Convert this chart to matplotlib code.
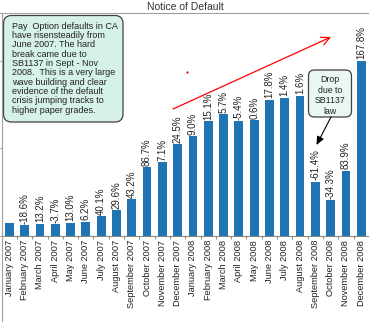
import matplotlib
matplotlib.use("Agg")
import matplotlib.pyplot as plt
from matplotlib.patches import FancyBboxPatch

plt.rcParams["font.family"] = ["Liberation Sans", "DejaVu Sans"]

# monthly notice-of-default counts and month-over-month change labels
months = [
    "January 2007", "February 2007", "March 2007", "April 2007", "May 2007",
    "June 2007", "July 2007", "August 2007", "September 2007", "October 2007",
    "November 2007", "December 2007", "January 2008", "February 2008",
    "March 2008", "April 2008", "May 2008", "June 2008", "July 2008",
    "August 2008", "September 2008", "October 2008", "November 2008",
    "December 2008",
]
notices = [
    760, 619, 700, 674, 762, 809, 1134, 1469, 2104, 3928, 4207, 5237,
    5709, 6571, 6945, 6570, 6609, 7786, 7895, 8021, 3096, 2034, 3741, 10018,
]
changes = [
    "", "-18.6%", "13.2%", "-3.7%", "13.0%", "6.2%", "40.1%", "29.6%",
    "43.2%", "86.7%", "7.1%", "24.5%", "9.0%", "15.1%", "5.7%", "-5.4%",
    "0.6%", "17.8%", "1.4%", "1.6%", "-61.4%", "-34.3%", "83.9%", "167.8%",
]
y_ticks = [0, 5000, 10000]

note_text = ("Pay  Option defaults in CA\n"
             "have risensteadily from\n"
             "June 2007. The hard\n"
             "break came due to\n"
             "SB1137 in Sept - Nov\n"
             "2008.  This is a very large\n"
             "wave building and clear\n"
             "evidence of the default\n"
             "crisis jumping tracks to\n"
             "higher paper grades.")
drop_text = "Drop\ndue to\nSB1137\nlaw"

W, H = 369, 322
BAR = "#1f74b4"
GRID = "#a0a0a0"
TXT = "#222222"

fig = plt.figure(figsize=(W / 100, H / 100), dpi=100)
fig.patch.set_facecolor("white")

# bar chart, placed in pixel terms
ax = fig.add_axes([1.7 / W, 86 / H, 367.2 / W, 223 / H])
x = list(range(len(months)))
ax.bar(x, notices, width=0.57, color=BAR, zorder=2)
ax.set_xlim(-0.5, len(months) - 0.5)
ax.set_ylim(0, 12740)

for i, (v, lbl) in enumerate(zip(notices, changes)):
    if lbl:
        ax.annotate(lbl, (i, v), xytext=(0, 1), textcoords="offset points",
                    rotation=90, ha="center", va="bottom", fontsize=7,
                    color=TXT, annotation_clip=False)

ax.set_xticks(x)
ax.set_xticklabels(months, rotation=90, fontsize=6.7, color=TXT)
ax.set_xticks([i - 0.5 for i in range(len(months) + 1)], minor=True)
ax.tick_params(axis="x", which="major", length=0, pad=2.8)
ax.tick_params(axis="x", which="minor", length=2.2, width=0.7, color="#888888")
ax.set_yticks(y_ticks)
ax.set_yticklabels([])
ax.tick_params(axis="y", length=1.5, width=0.7, color="#888888", direction="out")
for side in ["top", "right", "left"]:
    ax.spines[side].set_visible(False)
ax.spines["bottom"].set_color("#888888")
ax.spines["bottom"].set_linewidth(0.8)
ax.patch.set_alpha(0)

# overlay in pixel coordinates for the header, frame, notes and arrows
ov = fig.add_axes([0, 0, 1, 1], zorder=5)
ov.set_xlim(0, W)
ov.set_ylim(H, 0)
ov.axis("off")
ov.patch.set_alpha(0)

ov.text(185, 6.5, "Notice of Default", ha="center", va="center",
        fontsize=7.5, color="#333333")
ov.plot([0, W], [13, 13], color=GRID, lw=0.8)
ov.plot([1.7, 1.7], [13, H], color=GRID, lw=0.8)

ov.add_patch(FancyBboxPatch((3.5, 15.5), 119.5, 106.5,
                            boxstyle="round,pad=0,rounding_size=8",
                            fc="#d6f1e7", ec="#404040", lw=0.9))
ov.text(12.5, 21.5, note_text, ha="left", va="top", fontsize=6.5,
        color=TXT, linespacing=1.05)

ov.add_patch(FancyBboxPatch((308.5, 70), 43, 47,
                            boxstyle="round,pad=0,rounding_size=6",
                            fc="#eaf6f2", ec="#404040", lw=0.9))
ov.text(330, 95.5, drop_text, ha="center", va="center", fontsize=6.3,
        color=TXT, linespacing=1.2)

ov.annotate("", xy=(316.5, 145), xytext=(331, 117),
            arrowprops=dict(arrowstyle="-|>,head_length=0.5,head_width=0.22",
                            color="black", lw=0.8, shrinkA=0, shrinkB=0,
                            mutation_scale=10))
ov.annotate("", xy=(331, 37), xytext=(173, 109),
            arrowprops=dict(arrowstyle="->,head_length=0.6,head_width=0.3",
                            color="red", lw=0.9, shrinkA=0, shrinkB=0,
                            mutation_scale=10))
ov.plot([187.3], [71.7], marker="s", markersize=0.6, color="red", lw=0)

fig.savefig("out.png", dpi=100)
plt.close(fig)
